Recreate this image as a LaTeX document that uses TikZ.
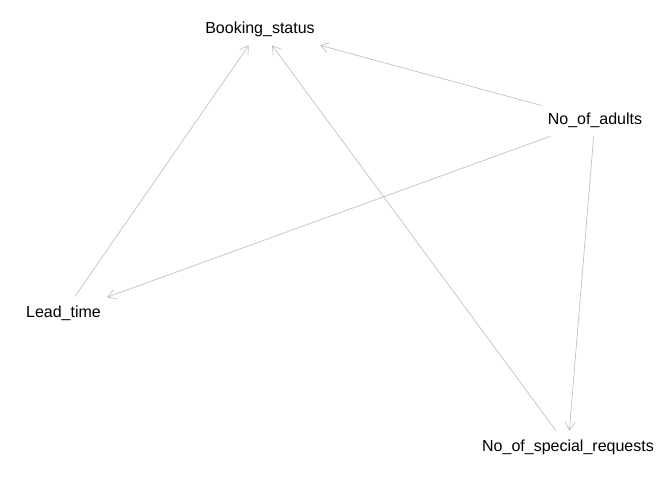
\documentclass[tikz,border=0pt]{standalone}
\usepackage{fontspec}
\setmainfont{Liberation Sans}
\usetikzlibrary{arrows.meta}
\definecolor{edgegray}{HTML}{BEBEBE}

\begin{document}
\begin{tikzpicture}[
  x=0.75pt, y=-0.75pt,
  var/.style={inner xsep=4.5pt, minimum height=24pt, font=\fontsize{12}{14}\selectfont},
  link/.style={draw=edgegray, line width=0.5pt, -{Straight Barb[length=6pt, width=7.5pt]}}
]
  \useasboundingbox (0,0) rectangle (672,480);

  % Variables
  \node[var] (status) at (260,29) {Booking\_status};
  \node[var] (adults) at (595,120) {No\_of\_adults};
  \node[var] (lead) at (63.5,313) {Lead\_time};
  \node[var] (requests) at (568,447) {No\_of\_special\_requests};

  % Arrows
  \draw[link] (adults) -- (status);
  \draw[link] (lead) -- (status);
  \draw[link] (requests) -- (status);
  \draw[link] (adults) -- (lead);
  \draw[link] (adults) -- (requests);
\end{tikzpicture}
\end{document}
